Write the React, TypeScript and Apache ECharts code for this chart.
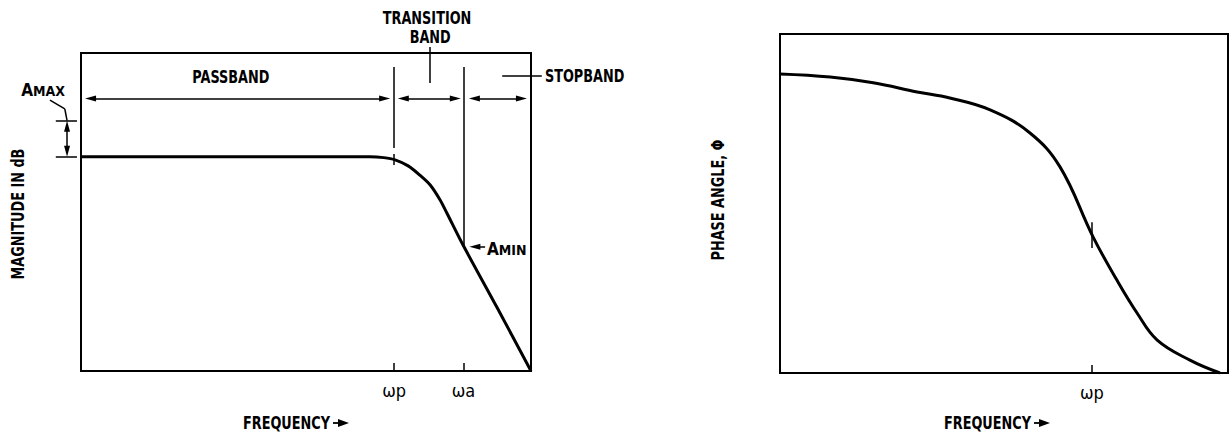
import React, { useEffect, useRef } from "react";
import * as echarts from "echarts";

const FONT = '"Liberation Sans Narrow", "Arial Narrow", "DejaVu Sans Condensed", sans-serif';

// ---- Left: magnitude response (arbitrary units 0..100) ----
const magFreq = [0, 30, 60, 64.2, 67.3, 69.8, 72.7, 75.3, 77.6, 79.8, 81.3, 84.9, 92.4, 100];
const magDb = [67.4, 67.4, 67.4, 67.4, 67.1, 66.4, 64.5, 61.6, 58.5, 53.8, 49.7, 39.6, 20.1, 0];

// ---- Right: phase response ----
const phaseFreq = [0, 11.2, 20.8, 30.6, 37.9, 46.9, 55.8, 62.5, 69.9, 75.2, 79.7, 84.2, 91.5, 98.2];
const phaseVal = [88.2, 87.3, 85.6, 82.9, 81.1, 77.6, 70.8, 60.8, 40.1, 27.4, 17.7, 9.7, 3.8, 0];

// ---- tick labels ----
const magTickValues = [69.6, 85];
const magTickLabels = ["ωp", "ωa"];
const phaseTickValues = [69.6];
const phaseTickLabels = ["ωp"];

// ---- annotation key frequencies / levels (data units) ----
const wp = 69.6;
const wa = 85;
const passLevel = 67.4;
const amaxLevel = 78.7;
const arrowLevel = 85.7;
const aminLevel = 39.1;

type Seg = [number, number][];

const G0 = { left: 81, top: 53, width: 450, height: 318 };
const G1 = { left: 780, top: 34, width: 448, height: 339 };

const ARROW_W = 6;
const ARROW_L = 11;
const TEXT_SCALE = 0.84;

function shrink(seg: Seg, g: typeof G0, atStart: boolean, atEnd: boolean): Seg {
  const kx = g.width / 100;
  const ky = g.height / 100;
  const [a, b] = seg;
  const dx = (b[0] - a[0]) * kx;
  const dy = (b[1] - a[1]) * ky;
  const len = Math.hypot(dx, dy) || 1;
  const h = ARROW_L / 2;
  const ux = (dx / len) * h / kx;
  const uy = (dy / len) * h / ky;
  const s: [number, number] = atStart ? [a[0] + ux, a[1] + uy] : [a[0], a[1]];
  const e: [number, number] = atEnd ? [b[0] - ux, b[1] - uy] : [b[0], b[1]];
  return [s, e];
}

const plainLeft: Seg[] = [
  [[wp, 70.1], [wp, 95.6]],
  [[wa, aminLevel + 0.5], [wa, 95.6]],
  [[77.6, 101.9], [77.6, 90.6]],
  [[93.6, 92.8], [102.4, 92.8]],
  [[-5.6, amaxLevel], [-0.9, amaxLevel]],
  [[-5.6, passLevel], [-0.9, passLevel]],
  [[-6.9, 85.2], [-3.6, 82.4]],
  [[-3.6, 82.4], [-3.1, amaxLevel]],
  [[wp, 68.2], [wp, 64.8]],
];

const doubleLeft: Seg[] = [
  [[0.9, arrowLevel], [68.7, arrowLevel]],
  [[70.4, arrowLevel], [84.4, arrowLevel]],
  [[86.2, arrowLevel], [99.1, arrowLevel]],
  [[-3.1, amaxLevel], [-3.1, passLevel]],
];

const singleLeft: Seg[] = [[[89.8, aminLevel], [86.3, aminLevel]]];

const plainRight: Seg[] = [[[wp, 44.5], [wp, 36.9]]];

export default function App() {
  const ref = useRef<HTMLDivElement>(null);

  useEffect(() => {
    if (!ref.current) return;
    const chart = echarts.init(ref.current, undefined, { renderer: "svg" });

    const black = "#000";
    const gridStyle = { show: true, borderColor: black, borderWidth: 2, backgroundColor: "transparent" };

    const xAxisFor = (gridIndex: number, vals: number[], labels: string[]) => ({
      type: "value",
      gridIndex,
      min: 0,
      max: 100,
      axisLine: { show: false },
      splitLine: { show: false },
      axisTick: {
        show: true,
        inside: true,
        length: 8,
        customValues: vals,
        lineStyle: { color: black, width: 1.5 },
      },
      axisLabel: {
        show: true,
        customValues: vals,
        margin: 10,
        color: black,
        fontSize: 18,
        fontFamily: FONT,
        formatter: (v: number) => {
          let best = 0;
          vals.forEach((t, i) => {
            if (Math.abs(t - v) < Math.abs(vals[best] - v)) best = i;
          });
          return labels[best];
        },
      },
    });

    const yAxisFor = (gridIndex: number) => ({
      type: "value",
      gridIndex,
      min: 0,
      max: 100,
      axisLine: { show: false },
      axisTick: { show: false },
      axisLabel: { show: false },
      splitLine: { show: false },
    });

    const linesSeries = (
      gi: number,
      segs: Seg[],
      symbol: string[],
      g: typeof G0,
      s: boolean,
      e: boolean
    ) => ({
      type: "lines",
      coordinateSystem: "cartesian2d",
      xAxisIndex: gi,
      yAxisIndex: gi,
      clip: false,
      silent: true,
      symbol,
      symbolSize: [
        [ARROW_W, ARROW_L],
        [ARROW_W, ARROW_L],
      ],
      lineStyle: { color: black, width: 1.5, opacity: 1, curveness: 0 },
      data: segs.map((sg) => ({ coords: s || e ? shrink(sg, g, s, e) : sg })),
    });

    chart.setOption({
      animation: false,
      backgroundColor: "#fff",
      textStyle: { fontFamily: FONT, color: black },
      grid: [
        { ...G0, ...gridStyle },
        { ...G1, ...gridStyle },
      ],
      xAxis: [xAxisFor(0, magTickValues, magTickLabels), xAxisFor(1, phaseTickValues, phaseTickLabels)],
      yAxis: [yAxisFor(0), yAxisFor(1)],
      series: [
        {
          type: "line",
          xAxisIndex: 0,
          yAxisIndex: 0,
          data: magFreq.map((f, i) => [f, magDb[i]]),
          smooth: 0.3,
          showSymbol: false,
          silent: true,
          lineStyle: { color: black, width: 3 },
        },
        {
          type: "line",
          xAxisIndex: 1,
          yAxisIndex: 1,
          data: phaseFreq.map((f, i) => [f, phaseVal[i]]),
          smooth: 0.4,
          showSymbol: false,
          silent: true,
          lineStyle: { color: black, width: 3 },
        },
        linesSeries(0, plainLeft, ["none", "none"], G0, false, false),
        linesSeries(0, doubleLeft, ["triangle", "triangle"], G0, true, true),
        linesSeries(0, singleLeft, ["none", "triangle"], G0, false, true),
        linesSeries(1, plainRight, ["none", "none"], G1, false, false),
      ],
    });

    const px = (gi: number, x: number, y: number) =>
      chart.convertToPixel({ gridIndex: gi } as any, [x, y]) as number[];

    const baseStyle = {
      verticalAlign: "middle",
      fill: black,
      fontSize: 17,
      fontWeight: "bold",
      fontFamily: FONT,
    };

    const boldText = (
      p: number[],
      text: string,
      align: string,
      extra: any = {},
      rotation = 0,
      scale = TEXT_SCALE
    ) => ({
      type: "text",
      x: p[0],
      y: p[1],
      rotation,
      scaleX: scale,
      silent: true,
      style: { ...baseStyle, text, align, ...extra },
    });

    const smallCaps = {
      rich: {
        a: { fontSize: 17, fontWeight: "bold", fontFamily: FONT, fill: black, verticalAlign: "bottom" },
        b: { fontSize: 14, fontWeight: "bold", fontFamily: FONT, fill: black, verticalAlign: "bottom" },
      },
    };

    // "FREQUENCY ->" title: text followed by a small filled arrow
    const freqTitle = (left: number, y: number) => [
      boldText([left, y], "FREQUENCY", "left"),
      {
        type: "line",
        silent: true,
        shape: { x1: left + 90, y1: y, x2: left + 98, y2: y },
        style: { stroke: black, lineWidth: 1.8 },
      },
      {
        type: "polygon",
        silent: true,
        shape: {
          points: [
            [left + 95, y - 4],
            [left + 106, y],
            [left + 95, y + 4],
          ],
        },
        style: { fill: black },
      },
    ];

    chart.setOption({
      graphic: [
        boldText(px(0, 33.3, 92.5), "PASSBAND", "center"),
        boldText(px(0, 76.9, 111), "TRANSITION", "center"),
        boldText(px(0, 77.6, 105), "BAND", "center"),
        boldText(px(0, 103.1, 92.8), "STOPBAND", "left"),
        boldText(px(0, -13.3, 88.4), "{a|A}{b|MAX}", "left", smallCaps, 0, 1),
        boldText(px(0, 90.2, 38.4), "{a|A}{b|MIN}", "left", smallCaps, 0, 1),
        boldText([18, 214], "MAGNITUDE IN dB", "center", {}, Math.PI / 2),
        boldText([718, 200], "PHASE ANGLE, Φ", "center", {}, Math.PI / 2),
        ...freqTitle(243, 423),
        ...freqTitle(944, 423),
      ],
    });

    return () => chart.dispose();
  }, []);

  return (
    <div
      ref={ref}
      style={{ position: "fixed", left: 0, top: 0, width: 1232, height: 437, background: "#fff" }}
    />
  );
}
